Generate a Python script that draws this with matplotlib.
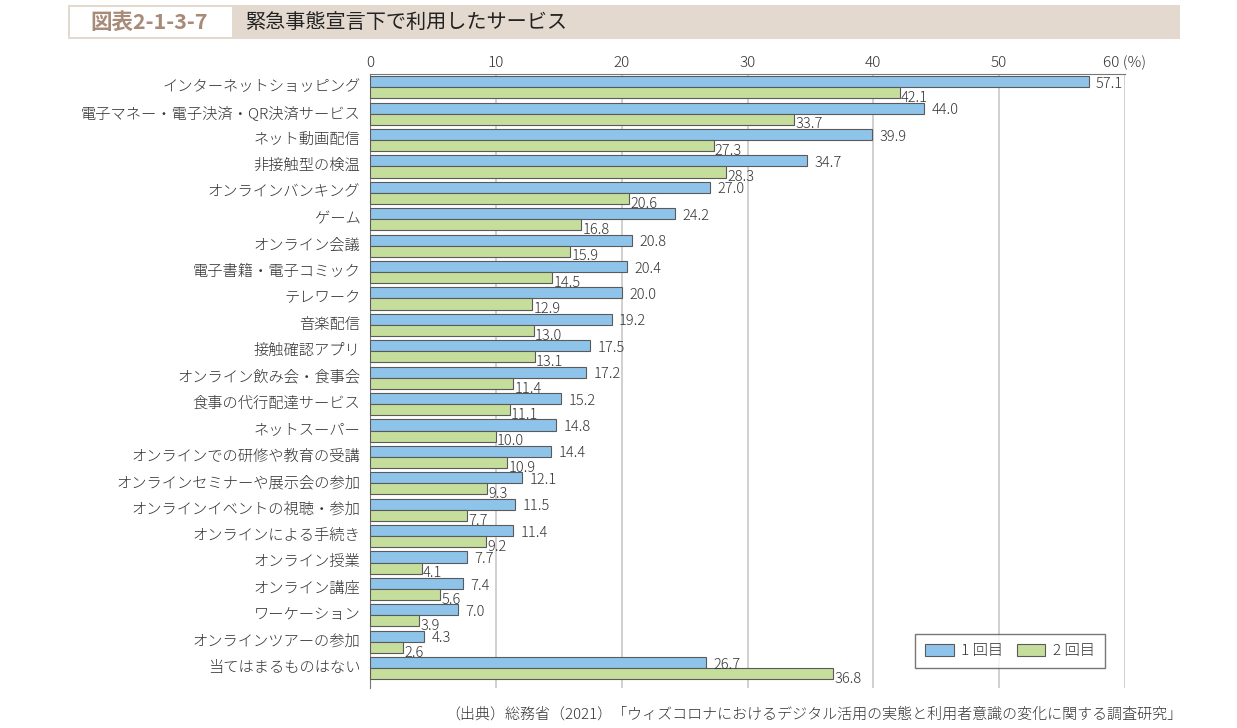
import numpy as np
import matplotlib.pyplot as plt
from matplotlib.patches import Rectangle
from matplotlib.transforms import ScaledTranslation

plt.rcParams['font.family'] = ['Noto Sans CJK JP', 'DejaVu Sans']
plt.rcParams['font.weight'] = 'light'

categories = [
    "インターネットショッピング", "電子マネー・電子決済・QR決済サービス", "ネット動画配信",
    "非接触型の検温", "オンラインバンキング", "ゲーム", "オンライン会議",
    "電子書籍・電子コミック", "テレワーク", "音楽配信", "接触確認アプリ",
    "オンライン飲み会・食事会", "食事の代行配達サービス", "ネットスーパー",
    "オンラインでの研修や教育の受講", "オンラインセミナーや展示会の参加",
    "オンラインイベントの視聴・参加", "オンラインによる手続き", "オンライン授業",
    "オンライン講座", "ワーケーション", "オンラインツアーの参加", "当てはまるものはない",
]
first = [57.1, 44.0, 39.9, 34.7, 27.0, 24.2, 20.8, 20.4, 20.0, 19.2, 17.5, 17.2,
         15.2, 14.8, 14.4, 12.1, 11.5, 11.4, 7.7, 7.4, 7.0, 4.3, 26.7]
second = [42.1, 33.7, 27.3, 28.3, 20.6, 16.8, 15.9, 14.5, 12.9, 13.0, 13.1, 11.4,
          11.1, 10.0, 10.9, 9.3, 7.7, 9.2, 4.1, 5.6, 3.9, 2.6, 36.8]
series_names = ["1 回目", "2 回目"]
xticks = [0, 10, 20, 30, 40, 50, 60]
xticklabels = ["0", "10", "20", "30", "40", "50", "60 (%)"]

blue = "#8ec4ea"
green = "#c6de9c"
edge = "#5a5a5a"
text_c = "#333333"

fig = plt.figure(figsize=(12.37, 7.28), dpi=100)
ax = fig.add_axes([370 / 1237, 1 - 688 / 728, 755 / 1237, 614 / 728])

y = np.arange(len(categories))
h = 0.42
ax.barh(y - h / 2, first, height=h, color=blue, edgecolor=edge, linewidth=0.8,
        label=series_names[0], zorder=3)
ax.barh(y + h / 2, second, height=h, color=green, edgecolor=edge, linewidth=0.8,
        label=series_names[1], zorder=3)

for i in range(len(categories)):
    ax.text(first[i] + 0.6, y[i] - h / 2 + 0.08, f"{first[i]:.1f}", va="center", ha="left",
            fontsize=10.5, color=text_c)
    ax.text(second[i] + 0.1, y[i] + h / 2 + 0.2, f"{second[i]:.1f}", va="center", ha="left",
            fontsize=10.5, color=text_c)

ax.set_xlim(0, 60)
ax.set_ylim(len(categories) - 0.5 + 0.25, -0.5)
ax.set_xticks(xticks)
ax.set_xticklabels(xticklabels)
ax.xaxis.tick_top()
ax.tick_params(axis="x", length=0, labelsize=11, colors=text_c, pad=3)
ax.set_yticks(y)
ax.set_yticklabels(categories)
ax.tick_params(axis="y", length=0, labelsize=11, colors=text_c, pad=7)
# nudge category labels slightly upward
up = ScaledTranslation(0, 1.3 / 72, fig.dpi_scale_trans)
for lab in ax.get_yticklabels():
    lab.set_transform(lab.get_transform() + up)
ax.grid(axis="x", color="#c8c8c8", linewidth=1.2, zorder=0)
for s in ["right", "bottom"]:
    ax.spines[s].set_visible(False)
ax.spines["left"].set_color("#777777")
ax.spines["top"].set_color("#777777")

leg = ax.legend(loc="lower right", bbox_to_anchor=(0.9735, 0.0326), borderaxespad=0,
                ncol=2, frameon=True, fancybox=False, edgecolor="#555555", fontsize=11,
                handlelength=1.85, handleheight=0.85, columnspacing=0.9,
                handletextpad=0.5, borderpad=0.65)
leg.get_frame().set_linewidth(1.0)
for t in leg.get_texts():
    t.set_color(text_c)

# title bar
fig.patches.append(Rectangle((68 / 1237, 1 - 39 / 728), 1112 / 1237, 34 / 728,
                             transform=fig.transFigure, facecolor="#e3d9cf", edgecolor="none"))
fig.patches.append(Rectangle((70 / 1237, 1 - 37 / 728), 162 / 1237, 30 / 728,
                             transform=fig.transFigure, facecolor="white", edgecolor="none"))
fig.text(90 / 1237, 1 - 22 / 728, "図表2-1-3-7", fontsize=15.5, fontweight="bold",
         color="#a88a78", va="center", ha="left")
fig.text(245 / 1237, 1 - 22 / 728, "緊急事態宣言下で利用したサービス", fontsize=14.5,
         fontweight="normal", color="#222222", va="center", ha="left")

fig.text(1182 / 1237, 1 - 714 / 728,
         "（出典）総務省（2021）「ウィズコロナにおけるデジタル活用の実態と利用者意識の変化に関する調査研究」",
         fontsize=10.8, color=text_c, va="center", ha="right")

fig.savefig("out.png", dpi=100)
